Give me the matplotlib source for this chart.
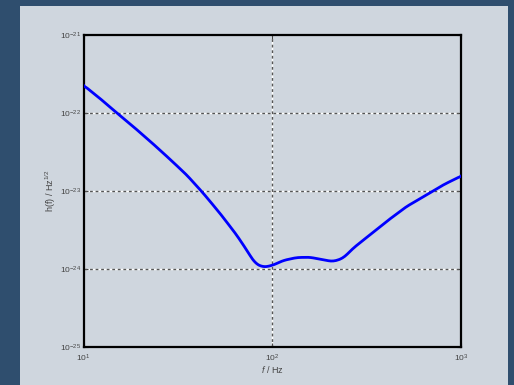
import numpy as np
import matplotlib.pyplot as plt
import matplotlib.patches as mpatches

plt.rcParams['font.family'] = ['Liberation Sans', 'DejaVu Sans']
plt.rcParams['mathtext.fontset'] = 'custom'
plt.rcParams['mathtext.rm'] = 'Liberation Sans'
plt.rcParams['mathtext.it'] = 'Liberation Sans:italic'

# Strain noise curve (log10 f, log10 h)
log_f = [1.000, 1.088, 1.176, 1.265, 1.370, 1.459, 1.547, 1.635, 1.723,
         1.811, 1.864, 1.908, 1.952, 2.000, 2.058, 2.129, 2.199, 2.270,
         2.323, 2.376, 2.429, 2.517, 2.605, 2.711, 2.817, 2.905, 3.000]
log_h = [-21.644, -21.815, -21.998, -22.177, -22.399, -22.595, -22.795,
         -23.030, -23.286, -23.563, -23.755, -23.925, -23.977, -23.955,
         -23.891, -23.853, -23.849, -23.883, -23.904, -23.861, -23.733,
         -23.563, -23.392, -23.200, -23.051, -22.923, -22.808]

x_ticks = [1e1, 1e2, 1e3]
x_tick_labels = [r'$\mathregular{10^{1}}$', r'$\mathregular{10^{2}}$', r'$\mathregular{10^{3}}$']
y_ticks = [1e-25, 1e-24, 1e-23, 1e-22, 1e-21]
y_tick_labels = [r'$\mathregular{10^{-25}}$', r'$\mathregular{10^{-24}}$', r'$\mathregular{10^{-23}}$',
                 r'$\mathregular{10^{-22}}$', r'$\mathregular{10^{-21}}$']

# smooth the read points a little for plotting
fine = np.linspace(log_f[0], log_f[-1], 300)
curve = np.interp(fine, log_f, log_h)
kernel = np.ones(7) / 7
pad = np.concatenate([np.full(3, curve[0]), curve, np.full(3, curve[-1])])
curve = np.convolve(pad, kernel, mode='valid')
curve[0], curve[-1] = log_h[0], log_h[-1]

fig = plt.figure(figsize=(5.14, 3.85), dpi=100)
fig.patch.set_facecolor('#2f4e6e')

# light slide panel (behind everything)
panel = mpatches.Rectangle((20 / 514, 0), 488 / 514, 1 - 6 / 385,
                           transform=fig.transFigure, facecolor='#cfd6de',
                           edgecolor='none', zorder=-10)
fig.patches.append(panel)

ax = fig.add_axes([83.5 / 514, 38 / 385, 377.5 / 514, 312 / 385])
ax.set_facecolor('#cfd6de')

ax.plot(10 ** fine, 10 ** curve, color='#0000ff', linewidth=2, zorder=3)

ax.set_xscale('log')
ax.set_yscale('log')
ax.set_xlim(10, 1000)
ax.set_ylim(1e-25, 1e-21)

ax.set_xticks(x_ticks)
ax.set_xticklabels(x_tick_labels)
ax.set_yticks(y_ticks)
ax.set_yticklabels(y_tick_labels)
ax.minorticks_off()
ax.tick_params(axis='both', which='major', length=3, width=0.8, direction='in',
               labelsize=6, colors='#444444', top=True, right=True)
ax.tick_params(axis='y', pad=2)
ax.tick_params(axis='x', pad=4)

# MATLAB-like dotted grid: white under dark dashes
for t in x_ticks[1:-1]:
    ax.axvline(t, color='white', linewidth=1.0, zorder=1)
    ax.axvline(t, color='#555555', linewidth=1.0, linestyle=(0, (2, 2)), zorder=2)
for t in y_ticks[1:-1]:
    ax.axhline(t, color='white', linewidth=1.0, zorder=1)
    ax.axhline(t, color='#555555', linewidth=1.0, linestyle=(0, (2, 2)), zorder=2)

for s in ax.spines.values():
    s.set_linewidth(1.6)
    s.set_color('black')

ax.set_xlabel(r'$f$ / Hz', fontsize=6.5, color='#444444', labelpad=0)
ax.set_ylabel(r'h(f) / Hz$^{\mathregular{1/2}}$', fontsize=6.5, color='#444444', labelpad=1)

fig.savefig('out.png', dpi=100, facecolor=fig.get_facecolor())
